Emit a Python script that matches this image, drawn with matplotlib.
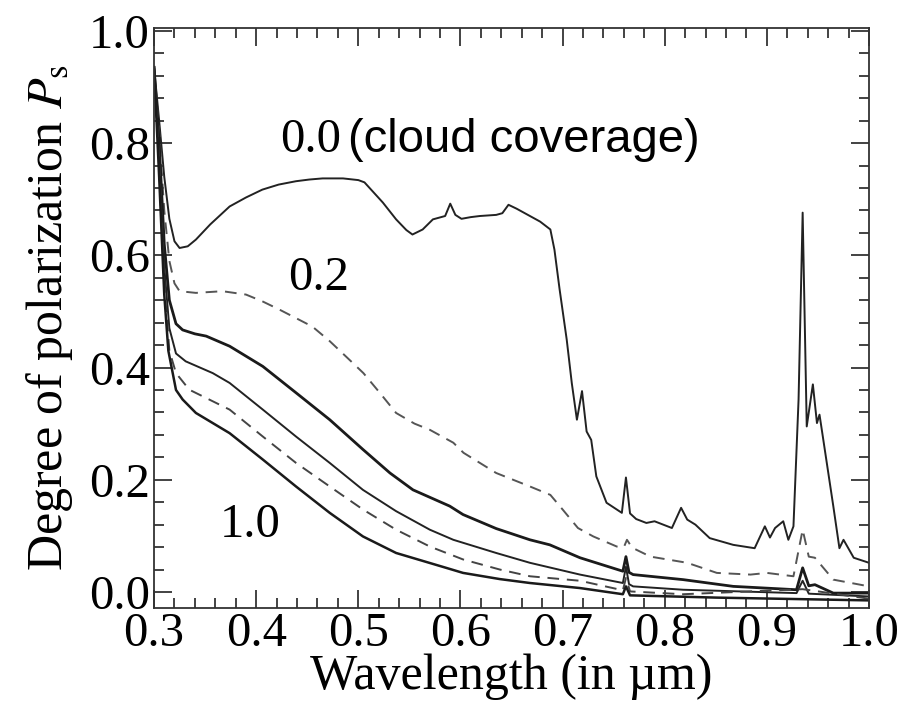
import numpy as np
import matplotlib
matplotlib.use("Agg")
import matplotlib.pyplot as plt

plt.rcParams['font.family'] = 'serif'
plt.rcParams['font.serif'] = ['Liberation Serif', 'DejaVu Serif']
plt.rcParams['mathtext.fontset'] = 'stix'

# degree of polarization vs wavelength, one curve per cloud coverage
x_00 = [0.300, 0.305, 0.310, 0.315, 0.320, 0.325, 0.333, 0.341, 0.355, 0.374, 0.390, 0.406, 0.422, 0.439,
        0.452, 0.465, 0.485, 0.500, 0.506, 0.515, 0.524, 0.537, 0.547, 0.553, 0.563, 0.573, 0.585, 0.590,
        0.595, 0.601, 0.610, 0.619, 0.635, 0.641, 0.647, 0.655, 0.665, 0.678, 0.688, 0.692, 0.697, 0.704,
        0.709, 0.714, 0.719, 0.7235, 0.728, 0.733, 0.743, 0.758, 0.762, 0.766, 0.772, 0.782, 0.790, 0.807,
        0.816, 0.822, 0.830, 0.844, 0.867, 0.888, 0.898, 0.903, 0.908, 0.916, 0.921, 0.926, 0.931, 0.935,
        0.939, 0.945, 0.949, 0.9515, 0.954, 0.965, 0.971, 0.975, 0.985, 1.000]
y_00 = [0.935, 0.840, 0.740, 0.665, 0.625, 0.613, 0.616, 0.628, 0.655, 0.687, 0.703, 0.717, 0.726, 0.732,
        0.735, 0.737, 0.737, 0.734, 0.730, 0.712, 0.694, 0.664, 0.645, 0.637, 0.646, 0.664, 0.670, 0.692,
        0.672, 0.665, 0.668, 0.670, 0.672, 0.675, 0.690, 0.683, 0.673, 0.660, 0.646, 0.610, 0.540, 0.450,
        0.372, 0.307, 0.358, 0.286, 0.271, 0.206, 0.159, 0.141, 0.204, 0.140, 0.130, 0.123, 0.126, 0.114,
        0.150, 0.129, 0.120, 0.096, 0.084, 0.078, 0.117, 0.097, 0.114, 0.126, 0.093, 0.117, 0.343, 0.676,
        0.295, 0.370, 0.301, 0.316, 0.286, 0.153, 0.078, 0.093, 0.061, 0.052]

x_02 = [0.300, 0.305, 0.310, 0.315, 0.320, 0.325, 0.341, 0.367, 0.390, 0.406, 0.423, 0.455, 0.472, 0.490,
        0.505, 0.521, 0.537, 0.555, 0.570, 0.593, 0.603, 0.635, 0.668, 0.688, 0.700, 0.715, 0.730, 0.753,
        0.760, 0.763, 0.768, 0.786, 0.822, 0.851, 0.884, 0.900, 0.926, 0.935, 0.941, 0.947, 0.965, 1.000]
y_02 = [0.935, 0.820, 0.680, 0.590, 0.550, 0.536, 0.533, 0.536, 0.530, 0.518, 0.503, 0.473, 0.447, 0.416,
        0.390, 0.355, 0.319, 0.300, 0.289, 0.266, 0.248, 0.212, 0.188, 0.173, 0.147, 0.114, 0.099, 0.081,
        0.080, 0.093, 0.079, 0.063, 0.052, 0.034, 0.031, 0.034, 0.028, 0.111, 0.063, 0.061, 0.022, 0.010]

x_04 = [0.300, 0.305, 0.310, 0.315, 0.3215, 0.328, 0.340, 0.351, 0.374, 0.4065, 0.439, 0.472, 0.5045, 0.531,
        0.5535, 0.5895, 0.6025, 0.635, 0.668, 0.6875, 0.717, 0.759, 0.762, 0.765, 0.769, 0.818, 0.867, 0.929,
        0.935, 0.941, 0.947, 0.965, 1.000]
y_04 = [0.935, 0.800, 0.620, 0.520, 0.478, 0.467, 0.460, 0.456, 0.438, 0.402, 0.355, 0.307, 0.254, 0.212,
        0.182, 0.153, 0.138, 0.113, 0.093, 0.084, 0.061, 0.037, 0.063, 0.035, 0.031, 0.022, 0.010, 0.004,
        0.043, 0.011, 0.013, -0.002, -0.002]

x_06 = [0.300, 0.305, 0.310, 0.315, 0.3215, 0.331, 0.3575, 0.374, 0.4065, 0.439, 0.472, 0.5045, 0.537, 0.570,
        0.593, 0.635, 0.668, 0.717, 0.759, 0.762, 0.765, 0.769, 0.818, 0.929, 0.935, 0.941, 1.000]
y_06 = [0.935, 0.780, 0.580, 0.470, 0.425, 0.411, 0.390, 0.3725, 0.325, 0.277, 0.230, 0.182, 0.144, 0.111,
        0.093, 0.0695, 0.052, 0.031, 0.016, 0.045, 0.014, 0.010, 0.004, -0.002, 0.020, -0.003, -0.008]

x_08 = [0.300, 0.305, 0.310, 0.315, 0.3215, 0.3345, 0.374, 0.4065, 0.439, 0.472, 0.5045, 0.537, 0.570,
        0.6025, 0.6385, 0.668, 0.717, 0.759, 0.762, 0.766, 0.818, 0.935, 1.000]
y_08 = [0.935, 0.760, 0.550, 0.430, 0.390, 0.3605, 0.325, 0.277, 0.230, 0.188, 0.147, 0.111, 0.081,
        0.058, 0.040, 0.028, 0.020, 0.003, 0.025, 0.001, -0.004, 0.005, -0.012]

x_10 = [0.300, 0.305, 0.310, 0.314, 0.3215, 0.328, 0.341, 0.374, 0.4065, 0.439, 0.472, 0.5045, 0.537,
        0.586, 0.6025, 0.6385, 0.668, 0.717, 0.759, 0.762, 0.766, 0.850, 1.000]
y_10 = [0.935, 0.740, 0.530, 0.430, 0.360, 0.343, 0.319, 0.283, 0.236, 0.188, 0.141, 0.099, 0.0695,
        0.043, 0.034, 0.023, 0.016, 0.007, -0.004, 0.010, -0.006, -0.010, -0.015]

fig = plt.figure(figsize=(9.12, 7.04), dpi=100)
ax = fig.add_axes([0.1689, 0.1364, 0.7840, 0.8238])

ax.plot(x_00, y_00, color='#222222', lw=1.4)
ax.plot(x_02, y_02, color='#555555', lw=1.4, dashes=(6, 4))
ax.plot(x_04, y_04, color='#1a1a1a', lw=2.0)
ax.plot(x_06, y_06, color='#222222', lw=1.4)
ax.plot(x_08, y_08, color='#444444', lw=1.4, dashes=(6, 4))
ax.plot(x_10, y_10, color='#1a1a1a', lw=1.8)

ax.set_xlim(0.3, 1.0)
ax.set_ylim(-0.0285, 1.005)
ax.set_xticks(np.arange(0.3, 1.01, 0.1))
ax.set_xticks(np.arange(0.3, 1.001, 0.02), minor=True)
ax.set_yticks(np.arange(0.0, 1.01, 0.2))
ax.set_yticks(np.arange(0.0, 1.001, 0.04), minor=True)
ax.xaxis.set_major_formatter(matplotlib.ticker.FormatStrFormatter('%.1f'))
ax.yaxis.set_major_formatter(matplotlib.ticker.FormatStrFormatter('%.1f'))

ax.tick_params(which='both', direction='in', top=True, right=True, color='#222222', width=1.2)
ax.tick_params(which='major', length=13, labelsize=35, pad=3)
ax.tick_params(which='minor', length=7)
for sp in ax.spines.values():
    sp.set_linewidth(1.3)
    sp.set_color('#333333')

ax.set_xlabel('Wavelength (in µm)', fontsize=36, labelpad=-2)
ax.set_ylabel('Degree of polarization $P_\\mathrm{s}$', fontsize=36, labelpad=10)

ax.text(0.453, 0.805, '0.0', fontsize=35, ha='center', va='center')
ax.text(0.4896, 0.805, '(cloud coverage)', fontsize=34, family='Liberation Sans', ha='left', va='center')
ax.text(0.461, 0.559, '0.2', fontsize=35, ha='center', va='center')
ax.text(0.394, 0.120, '1.0', fontsize=35, ha='center', va='center')

fig.savefig('out.png', dpi=100)
